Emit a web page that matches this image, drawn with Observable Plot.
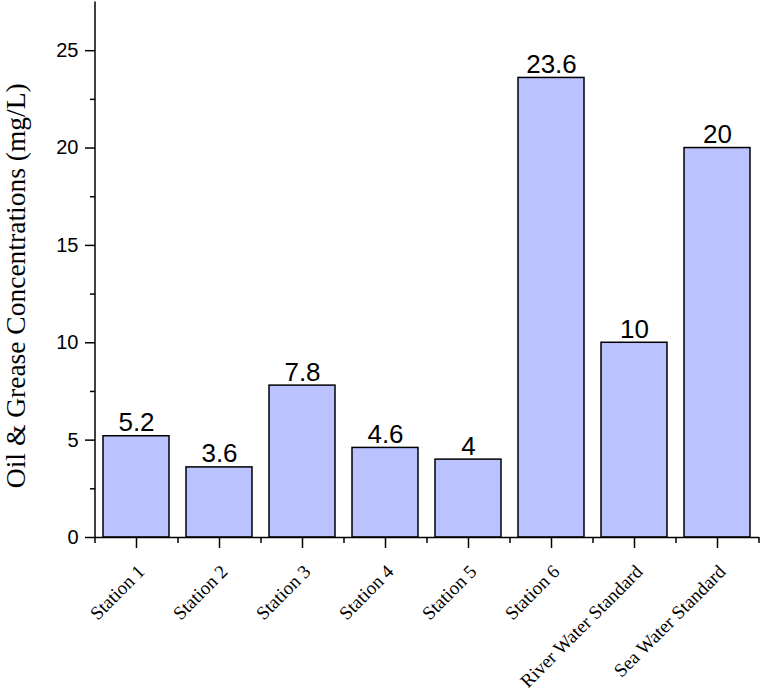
<!DOCTYPE html>
<html>
<head>
<meta charset="utf-8">
<script src="https://cdn.jsdelivr.net/npm/d3@7"></script>
<script src="https://cdn.jsdelivr.net/npm/@observablehq/plot@0.6"></script>
<style>
  html, body { margin: 0; padding: 0; background: #fff; }
</style>
</head>
<body>
<div id="chart"></div>
<script>
const categories = ["Station 1", "Station 2", "Station 3", "Station 4", "Station 5", "Station 6", "River Water Standard", "Sea Water Standard"];
const values = [5.2, 3.6, 7.8, 4.6, 4, 23.6, 10, 20];
const valueLabels = ["5.2", "3.6", "7.8", "4.6", "4", "23.6", "10", "20"];
const majorTicks = [0, 5, 10, 15, 20, 25];
const minorTicks = [2.5, 7.5, 12.5, 17.5, 22.5];
const yTitle = "Oil & Grease Concentrations (mg/L)";

const data = categories.map((c, i) => ({cat: c, value: values[i], label: valueLabels[i]}));

const W = 762, H = 696;
const mL = 95, mR = 3, mT = 1.5, mB = 159;
const padIn = 0.2, padOut = 0.1;
const step = (W - mL - mR) / (categories.length - padIn + 2 * padOut);

const serif = "'Liberation Serif', 'Times New Roman', serif";
const sans = "'Liberation Sans', Arial, sans-serif";

const chart = Plot.plot({
  width: W,
  height: H,
  marginLeft: mL,
  marginRight: mR,
  marginTop: mT,
  marginBottom: mB,
  style: {background: "#fff", color: "#000"},
  x: {domain: categories, paddingInner: padIn, paddingOuter: padOut, axis: null},
  y: {domain: [0, 27.5], axis: null},
  marks: [
    Plot.barY(data, {x: "cat", y: "value", fill: "#bac2ff", stroke: "#000", strokeWidth: 1.5}),
    Plot.text(data, {x: "cat", y: "value", text: "label", lineAnchor: "bottom", dy: -5, fontSize: 26, fontFamily: sans, fill: "#000"}),
    Plot.ruleY([0], {stroke: "#000", strokeWidth: 1.5}),
    Plot.ruleX([categories[0]], {y1: 0, y2: 27.5, dx: -step / 2, stroke: "#000", strokeWidth: 1.5}),
    Plot.axisY({ticks: majorTicks, tickSize: 10, tickPadding: 7, fontSize: 20, fontFamily: sans, label: null, tickFormat: d => String(d), strokeWidth: 1.5}),
    Plot.axisY({ticks: minorTicks, tickSize: 5, text: null, label: null, strokeWidth: 1.5}),
    Plot.axisX({tickSize: 11, text: null, label: null, strokeWidth: 1.5}),
    Plot.axisX({tickSize: 6, text: null, label: null, dx: -step / 2, strokeWidth: 1.5}),
    Plot.axisX({ticks: [categories[categories.length - 1]], tickSize: 6, text: null, label: null, dx: step / 2, strokeWidth: 1.5}),
    Plot.axisX({tickSize: 0, tickRotate: -45, tickPadding: 31, dx: 5, fontSize: 19, fontFamily: serif, label: null}),
    Plot.text([yTitle], {frameAnchor: "left", textAnchor: "middle", rotate: -90, dx: -79, dy: 16, fontSize: 27.5, fontFamily: serif, fill: "#000"})
  ]
});
document.getElementById("chart").appendChild(chart);
</script>
</body>
</html>
